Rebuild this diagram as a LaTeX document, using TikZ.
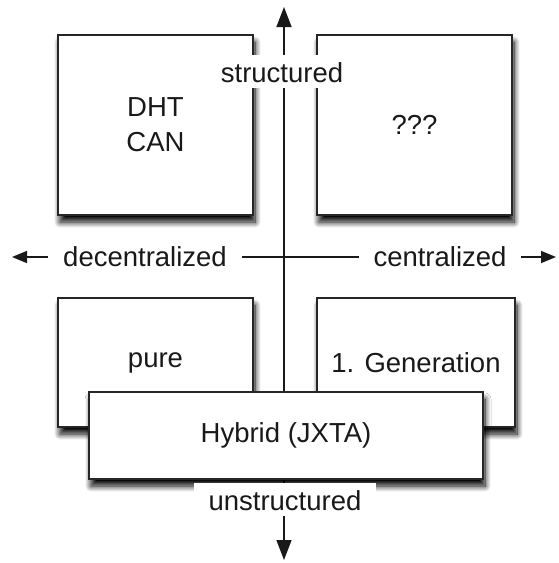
\documentclass[tikz,border=0pt]{standalone}
\usepackage{fontspec}
\setmainfont{Liberation Sans}
\usetikzlibrary{arrows.meta,shadows.blur}
\begin{document}
\begin{tikzpicture}[x=1pt,y=-1pt,
  every node/.style={font=\fontsize{27.5}{35}\selectfont, align=center, text=black!90},
  quadrant/.style={draw=black!85, line width=1.8pt, fill=white,
    inner sep=0pt,
    blur shadow={shadow xshift=2pt, shadow yshift=-7pt,
      shadow blur radius=6pt, shadow blur steps=12, shadow opacity=100}},
  axis/.style={line width=1.5pt, draw=black!90},
  vtip/.style={-{Triangle[length=20pt,width=15pt]}},
  htip/.style={{Triangle[length=15pt,width=12pt]}-{Triangle[length=15pt,width=12pt]}},
  axislabel/.style={fill=white, anchor=base, inner ysep=4pt,
    text height=23pt, text depth=2pt}
]
\useasboundingbox (0,0) rectangle (558,563);

% axis end points
\coordinate (W) at (12,257);
\coordinate (E) at (556,257);
\coordinate (N) at (284,7);
\coordinate (S) at (284,560);
\coordinate (O) at (284,257);

% four quadrants
\node[quadrant, minimum width=195pt, minimum height=180pt] (dht) at (155.5,125) {DHT\\CAN};
\node[quadrant, minimum width=195pt, minimum height=180pt] (unknown) at (414.5,125) {???};
\node[quadrant, minimum width=195pt, minimum height=129pt] (pure) at (155.5,362.5) {pure};
\node[quadrant, minimum width=198pt, minimum height=129pt] (gen) at (416,362.5) {1. Generation};

% axes
\draw[axis, htip] (W) -- (E);
\draw[axis, vtip] (O) -- (N);
\draw[axis, vtip] (O) -- (S);

% hybrid box straddling the lower quadrants
\node[quadrant, minimum width=394pt, minimum height=87pt] (hybrid) at (286,435.5) {Hybrid (JXTA)};

% axis labels
\node[axislabel, inner xsep=2pt] (structured) at (282,82) {structured};
\node[axislabel, inner xsep=15pt] (unstructured) at (285,510) {unstructured};
\node[axislabel, inner xsep=15pt] (decentral) at (145,266) {decentralized};
\node[axislabel, inner xsep=15pt] (central) at (440,266) {centralized};
\end{tikzpicture}
\end{document}
